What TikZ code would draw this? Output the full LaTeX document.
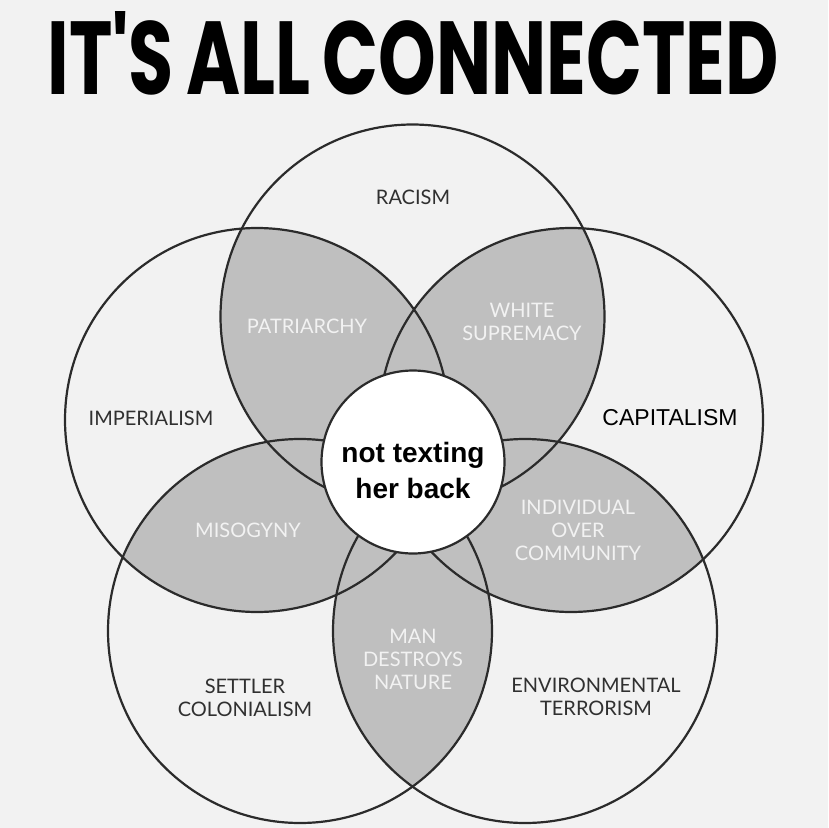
\documentclass[tikz,border=0pt]{standalone}
\usepackage{fontspec}
\usepackage{graphicx}
\setmainfont{Lato}
\newfontfamily\titlefont{Poppins}[WordSpace=0.8]
\newfontfamily\msgfont{Liberation Sans}
\usetikzlibrary{positioning}

\definecolor{bgcol}{HTML}{F2F2F2}
\definecolor{lenscol}{HTML}{BFBFBF}
\definecolor{linecol}{HTML}{2B2B2B}
\definecolor{inkcol}{HTML}{303030}
\definecolor{palecol}{HTML}{F2F2F2}

\begin{document}
\begin{tikzpicture}[
    x=1pt, y=-1pt,
    ring/.style={draw=linecol, line width=2.2pt},
    darklabel/.style={align=center, text=inkcol, inner sep=0pt, font=\fontsize{20}{23}\selectfont},
    palelabel/.style={darklabel, text=palecol}
]

\fill[bgcol] (0,0) rectangle (828,828);
\useasboundingbox (0,0) rectangle (828,828);

% title
\node[inner sep=0pt] (title) at (413,53.5)
    {\resizebox{731pt}{83pt}{\titlefont\bfseries IT\textquotesingle S ALL CONNECTED}};

% circle centres
\coordinate (racism)   at (412.5,316.5);
\coordinate (imperial) at (257,420);
\coordinate (capital)  at (571,420);
\coordinate (settler)  at (300,631);
\coordinate (environ)  at (525,631);

% shaded overlaps
\foreach \a/\b in {racism/imperial, racism/capital, racism/settler, racism/environ,
                   imperial/capital, imperial/settler, imperial/environ,
                   capital/settler, capital/environ, settler/environ} {
  \begin{scope}
    \clip (\a) circle[radius=192pt];
    \fill[lenscol] (\b) circle[radius=192pt];
  \end{scope}
}

\foreach \c in {racism, imperial, capital, settler, environ}
  \draw[ring] (\c) circle[radius=192pt];

\node[ring, circle, fill=white, minimum size=183pt, inner sep=0pt] (hub) at (413,462) {};
\node[font=\msgfont\bfseries\fontsize{28}{36}\selectfont, align=center, inner sep=0pt] (msg)
    at (413,470) {not texting\\her back};

% outer labels
\node[darklabel] (racismlbl)   at (413,197) {RACISM};
\node[darklabel] (imperiallbl) at (151,418) {IMPERIALISM};
\node[darklabel, text=black, font=\msgfont\fontsize{23}{26}\selectfont] (capitallbl) at (670,418) {CAPITALISM};
\node[darklabel] (settlerlbl)  at (245,697.5) {SETTLER\\COLONIALISM};
\node[darklabel] (environlbl)  at (596,696.5) {ENVIRONMENTAL\\TERRORISM};

% overlap labels
\node[palelabel] (patriarchy) at (307,326) {PATRIARCHY};
\node[palelabel] (supremacy)  at (522,322) {WHITE\\SUPREMACY};
\node[palelabel] (misogyny)   at (248,530) {MISOGYNY};
\node[palelabel] (community)  at (578,530) {INDIVIDUAL\\OVER\\COMMUNITY};
\node[palelabel] (nature)     at (413,659) {MAN\\DESTROYS\\NATURE};

\end{tikzpicture}
\end{document}
